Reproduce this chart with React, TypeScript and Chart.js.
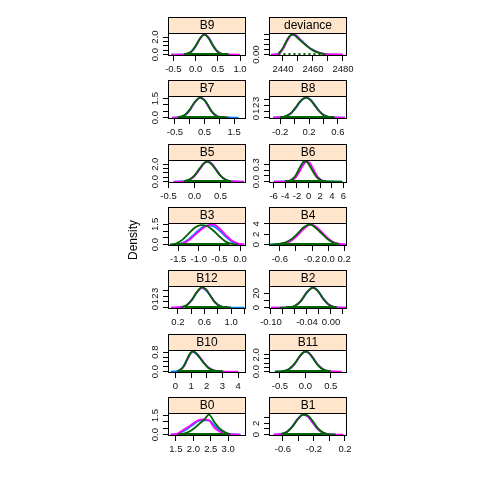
import React, { useEffect, useRef } from 'react';
import { Chart, registerables } from 'chart.js';

Chart.register(...registerables);

// panels in reading order (top-left to bottom-right)
const panelNames = ['B9', 'deviance', 'B7', 'B8', 'B5', 'B6', 'B3', 'B4', 'B12', 'B2', 'B10', 'B11', 'B0', 'B1'];

const xLimits = [
    [-0.62, 1.135], [2430.7, 2482.7],
    [-0.733, 1.9], [-0.355, 0.727],
    [-0.51, 0.99], [-6.8, 6.6],
    [-1.746, 0.144], [-0.735, 0.235],
    [0.052, 1.222], [-0.1033, 0.0267],
    [-0.47, 4.5], [-0.715, 0.82],
    [1.273, 3.51], [-0.78, 0.226],
];

const xTicks = [
    [-0.5, 0, 0.5, 1], [2440, 2450, 2460, 2470, 2480],
    [-0.5, 0, 0.5, 1, 1.5], [-0.2, 0, 0.2, 0.4, 0.6],
    [-0.5, 0, 0.5], [-6, -4, -2, 0, 2, 4, 6],
    [-1.5, -1, -0.5, 0], [-0.6, -0.4, -0.2, 0, 0.2],
    [0.2, 0.4, 0.6, 0.8, 1.0, 1.2], [-0.1, -0.08, -0.06, -0.04, -0.02, 0, 0.02],
    [0, 1, 2, 3, 4], [-0.5, 0, 0.5],
    [1.5, 2, 2.5, 3], [-0.6, -0.4, -0.2, 0, 0.2],
];

const xTickLabels = [
    ['-0.5', '0.0', '0.5', '1.0'], ['2440', '', '2460', '', '2480'],
    ['-0.5', '', '0.5', '', '1.5'], ['-0.2', '', '0.2', '', '0.6'],
    ['-0.5', '0.0', '0.5'], ['-6', '-4', '-2', '0', '2', '4', '6'],
    ['-1.5', '-1.0', '-0.5', '0.0'], ['-0.6', '', '-0.2', '0.0', '0.2'],
    ['0.2', '', '0.6', '', '1.0', ''], ['-0.10', '', '', '-0.04', '', '0.00', ''],
    ['0', '1', '2', '3', '4'], ['-0.5', '0.0', '0.5'],
    ['1.5', '2.0', '2.5', '3.0'], ['-0.6', '', '-0.2', '', '0.2'],
];

const yPeaks = [2.3, 0.081, 1.6, 3.3, 2.32, 0.36, 1.5, 3.9, 3.52, 28.2, 0.83, 2.4, 1.6, 3.6];

const yTicks = [
    [0, 0.5, 1, 1.5, 2], [0, 0.02, 0.04, 0.06, 0.08],
    [0, 0.5, 1, 1.5], [0, 1, 2, 3],
    [0, 0.5, 1, 1.5, 2], [0, 0.1, 0.2, 0.3],
    [0, 0.5, 1, 1.5], [0, 2, 4],
    [0, 1, 2, 3], [0, 10, 20],
    [0, 0.2, 0.4, 0.6, 0.8], [0, 0.5, 1, 1.5, 2],
    [0, 0.5, 1, 1.5], [0, 1, 2, 3],
];

const yTickLabels = [
    ['0.0', '', '', '', '2.0'], ['0.00', '', '', '', ''],
    ['0.0', '', '', '1.5'], ['0', '1', '2', '3'],
    ['0.0', '', '', '', '2.0'], ['0.0', '', '', '0.3'],
    ['0.0', '', '', '1.5'], ['0', '2', '4'],
    ['0', '1', '2', '3'], ['0', '', '20'],
    ['0.0', '', '', '', '0.8'], ['0.0', '', '', '', '2.0'],
    ['0.0', '', '', '1.5'], ['0', '', '2', ''],
];

const densityX = [
    [-0.55, -0.25, -0.1, 0.0, 0.1, 0.2, 0.3, 0.4, 0.5, 0.6, 0.75, 1.0],
    [2432, 2437, 2440, 2443, 2446, 2448, 2451, 2454, 2457, 2460, 2464, 2468, 2480],
    [-0.6, -0.35, -0.15, 0.0, 0.15, 0.35, 0.5, 0.6, 0.75, 0.9, 1.1, 1.3, 1.65],
    [-0.3, -0.15, -0.05, 0.02, 0.08, 0.16, 0.22, 0.28, 0.34, 0.4, 0.47, 0.55, 0.7],
    [-0.4, -0.2, -0.1, 0.0, 0.1, 0.18, 0.25, 0.32, 0.4, 0.5, 0.6, 0.7, 0.95],
    [-6, -4, -3, -2.2, -1.5, -0.8, -0.3, 0.2, 0.8, 1.5, 2.2, 3, 5.8],
    [-1.7, -1.55, -1.4, -1.25, -1.1, -0.95, -0.8, -0.65, -0.5, -0.35, -0.2, -0.05, 0.1],
    [-0.72, -0.62, -0.52, -0.44, -0.37, -0.3, -0.22, -0.15, -0.08, 0.0, 0.07, 0.14, 0.22],
    [0.1, 0.25, 0.33, 0.41, 0.48, 0.56, 0.62, 0.68, 0.75, 0.83, 0.92, 1.0, 1.2],
    [-0.1, -0.085, -0.07, -0.06, -0.05, -0.04, -0.03, -0.022, -0.013, -0.005, 0.003, 0.01, 0.025],
    [-0.3, 0.2, 0.5, 0.75, 0.95, 1.1, 1.3, 1.55, 1.8, 2.1, 2.5, 3.0, 4.0],
    [-0.6, -0.45, -0.33, -0.22, -0.12, -0.05, 0.01, 0.07, 0.15, 0.25, 0.36, 0.48, 0.72],
    [1.35, 1.55, 1.7, 1.85, 2.0, 2.15, 2.3, 2.45, 2.6, 2.75, 2.9, 3.05, 3.35],
    [-0.72, -0.62, -0.55, -0.48, -0.41, -0.34, -0.28, -0.22, -0.15, -0.08, 0.0, 0.08, 0.18],
];

const densityBlue = [
    [0, 0.02, 0.29, 0.9, 1.8, 2.3, 1.9, 1.0, 0.35, 0.07, 0.01, null],
    [0, 0.003, 0.024, 0.058, 0.079, 0.079, 0.064, 0.047, 0.031, 0.019, 0.008, 0.002, 0],
    [0, 0.03, 0.2, 0.57, 1.12, 1.57, 1.4, 1.02, 0.47, 0.15, 0.03, 0.01, 0],
    [0, 0.1, 0.68, 1.6, 2.6, 3.28, 2.98, 2.1, 1.12, 0.47, 0.13, 0.02, 0],
    [0, 0.04, 0.2, 0.65, 1.44, 2.08, 2.32, 2.12, 1.5, 0.7, 0.22, 0.05, 0],
    [0, 0.002, 0.02, 0.09, 0.212, 0.332, 0.358, 0.315, 0.205, 0.085, 0.024, 0.003, 0],
    [0, 0.02, 0.12, 0.38, 0.8, 1.2, 1.43, 1.38, 1.05, 0.6, 0.22, 0.05, 0],
    [0, 0.1, 0.4, 1.1, 2.1, 3.2, 3.9, 3.3, 2.3, 1.1, 0.4, 0.1, 0],
    [0, 0.06, 0.37, 1.3, 2.55, 3.45, 3.0, 2.15, 1.05, 0.3, 0.05, 0.01, 0],
    [0, 0.01, 0.32, 2.3, 9.2, 21.0, 28.2, 23.8, 12.9, 5.2, 1.5, 0.35, 0],
    [0, 0.03, 0.2, 0.52, 0.76, 0.8, 0.74, 0.57, 0.37, 0.17, 0.04, 0.01, null],
    [0, 0.04, 0.24, 0.83, 1.7, 2.22, 2.36, 2.2, 1.6, 0.78, 0.23, 0.03, null],
    [0, 0.05, 0.25, 0.5, 0.8, 1.08, 1.12, 1.12, 0.75, 0.35, 0.12, 0.03, 0],
    [0, 0.12, 0.52, 1.48, 2.8, 3.55, 3.2, 2.15, 0.92, 0.27, 0.05, 0.01, null],
];

const densityMagenta = [
    [0, 0.03, 0.3, 0.92, 1.78, 2.32, 1.88, 0.96, 0.32, 0.07, 0.01, 0],
    [0, 0.002, 0.022, 0.057, 0.08, 0.08, 0.063, 0.046, 0.03, 0.018, 0.008, 0.003, 0],
    [0, 0.02, 0.21, 0.58, 1.14, 1.6, 1.38, 1.0, 0.45, 0.14, 0.02, 0.01, null],
    [0, 0.12, 0.72, 1.7, 2.66, 3.3, 2.88, 1.96, 1.05, 0.44, 0.12, 0.03, 0],
    [0, 0.03, 0.19, 0.64, 1.42, 2.06, 2.3, 2.14, 1.52, 0.7, 0.22, 0.05, 0],
    [0, 0.001, 0.015, 0.075, 0.19, 0.315, 0.36, 0.335, 0.225, 0.095, 0.027, 0.004, null],
    [0, 0.01, 0.08, 0.3, 0.7, 1.1, 1.4, 1.5, 1.2, 0.72, 0.3, 0.07, 0.01],
    [null, 0.08, 0.33, 0.95, 1.95, 3.05, 3.9, 3.45, 2.45, 1.2, 0.45, 0.12, 0],
    [0, 0.07, 0.4, 1.35, 2.6, 3.42, 3.15, 2.25, 1.0, 0.26, 0.04, 0, null],
    [0, 0.02, 0.38, 2.5, 9.6, 21.5, 27.6, 23.2, 12.5, 5.0, 1.4, 0.3, 0],
    [null, 0.02, 0.17, 0.47, 0.72, 0.82, 0.78, 0.6, 0.38, 0.17, 0.04, 0.01, 0],
    [null, 0.03, 0.23, 0.82, 1.7, 2.2, 2.4, 2.26, 1.68, 0.82, 0.25, 0.04, 0],
    [0, 0.08, 0.35, 0.6, 0.9, 1.15, 1.2, 1.12, 0.55, 0.25, 0.1, 0.03, 0],
    [0, 0.1, 0.47, 1.4, 2.74, 3.5, 3.22, 2.2, 0.98, 0.3, 0.06, 0.01, 0],
];

const densityGreen = [
    [null, 0.04, 0.33, 0.97, 1.86, 2.28, 1.8, 0.92, 0.3, 0.06, 0.0, null],
    [null, 0.004, 0.027, 0.062, 0.081, 0.077, 0.06, 0.044, 0.029, 0.017, 0.007, 0.001, null],
    [null, 0.04, 0.24, 0.63, 1.18, 1.58, 1.36, 1.05, 0.45, 0.13, 0.02, 0, null],
    [null, 0.11, 0.74, 1.72, 2.7, 3.26, 2.85, 2.0, 1.08, 0.43, 0.11, 0.02, null],
    [null, 0.05, 0.24, 0.72, 1.52, 2.12, 2.26, 2.04, 1.44, 0.66, 0.2, 0.04, null],
    [null, 0.003, 0.03, 0.115, 0.25, 0.355, 0.35, 0.28, 0.17, 0.065, 0.017, 0.002, 0],
    [0, 0.08, 0.35, 0.8, 1.25, 1.45, 1.38, 1.05, 0.6, 0.22, 0.05, 0.01, null],
    [0, 0.13, 0.5, 1.25, 2.3, 3.4, 3.88, 3.15, 2.15, 1.0, 0.35, 0.07, null],
    [null, 0.08, 0.41, 1.36, 2.62, 3.52, 3.22, 2.2, 1.0, 0.26, 0.03, 0, null],
    [null, 0.01, 0.35, 2.45, 9.5, 21.6, 27.8, 23.3, 12.4, 4.9, 1.35, 0.3, null],
    [null, 0.03, 0.19, 0.5, 0.75, 0.83, 0.77, 0.58, 0.36, 0.15, 0.03, 0, null],
    [0, 0.05, 0.27, 0.88, 1.76, 2.25, 2.38, 2.2, 1.6, 0.75, 0.2, 0.02, null],
    [null, 0, 0.05, 0.2, 0.45, 0.8, 1.15, 1.58, 1.0, 0.5, 0.2, 0.03, null],
    [null, 0.1, 0.45, 1.38, 2.7, 3.58, 3.4, 2.5, 1.15, 0.35, 0.05, 0, null],
];

// extent of the rug of sampled points along y = 0
const rugRanges = [
    [-0.25, 0.72], [2437, 2468],
    [-0.4, 1.2], [-0.2, 0.55],
    [-0.2, 0.7], [-4, 3],
    [-1.6, -0.25], [-0.62, 0.12],
    [0.3, 0.95], [-0.075, 0.008],
    [0.1, 3.0], [-0.45, 0.5],
    [1.6, 3.05], [-0.62, -0.05],
];

const PLOT_W = 78;
const PLOT_H = 23;
const STRIP_H = 16;
const LEFT_ROOM = 26;
const RIGHT_ROOM = 16;
const BOTTOM_ROOM = 24;
const COL_LEFT = [168, 269];
const FONT = '"Liberation Sans", Arial, sans-serif';

const rowPlotTop = (row: number) => 33 + Math.round(63.33 * row);

const latticePanel = {
    id: 'latticePanel',
    afterDraw(chart: any, _args: any, opts: any) {
        const { ctx, chartArea: a } = chart;
        const yScale = chart.scales.y;
        const w = a.right - a.left;
        const sTop = a.top - STRIP_H;
        ctx.save();
        // strip
        ctx.fillStyle = '#FFE5CC';
        ctx.fillRect(a.left, sTop, w, STRIP_H);
        ctx.strokeStyle = '#000';
        ctx.lineWidth = 1;
        ctx.strokeRect(a.left + 0.5, sTop + 0.5, w - 1, STRIP_H);
        ctx.fillStyle = '#000';
        ctx.font = `12px ${FONT}`;
        ctx.textAlign = 'center';
        ctx.textBaseline = 'middle';
        ctx.fillText(opts.title, a.left + w / 2, sTop + STRIP_H / 2 + 1);
        // panel box
        ctx.strokeRect(a.left + 0.5, a.top + 0.5, w - 1, a.bottom - a.top - 1);
        // y tick labels, parallel to the axis
        ctx.font = `9.5px ${FONT}`;
        ctx.fillStyle = '#111';
        opts.ticks.forEach((v: number, k: number) => {
            const label = opts.labels[k];
            if (!label) return;
            const py = yScale.getPixelForValue(v);
            ctx.save();
            ctx.translate(a.left - 13, py);
            ctx.rotate(-Math.PI / 2);
            ctx.fillText(label, 0, 0);
            ctx.restore();
        });
        ctx.restore();
    },
};

const curve = (i: number, ys: (number | null)[], color: string) => ({
    data: densityX[i].map((x, k) => ({ x, y: ys[k] })),
    borderColor: color,
    borderWidth: 1.8,
    pointRadius: 0,
    fill: false,
    cubicInterpolationMode: 'monotone' as const,
    spanGaps: false,
});

const Panel: React.FC<{ index: number }> = ({ index }) => {
    const canvasRef = useRef<HTMLCanvasElement>(null);
    const chartRef = useRef<Chart | null>(null);

    useEffect(() => {
        if (!canvasRef.current) return;
        if (chartRef.current) chartRef.current.destroy();
        const peak = yPeaks[index];
        const tickGrid = { display: true, drawOnChartArea: false, drawTicks: true, tickLength: 5, color: '#000', lineWidth: 1 };
        chartRef.current = new Chart(canvasRef.current, {
            type: 'line',
            data: {
                datasets: [
                    {
                        data: rugRanges[index].map((x) => ({ x, y: 0 })),
                        borderColor: '#006400',
                        borderWidth: 3,
                        borderDash: panelNames[index] === 'deviance' ? [2, 3] : [],
                        pointRadius: 0,
                        fill: false,
                    },
                    curve(index, densityGreen[index], '#006400'),
                    curve(index, densityMagenta[index], '#FF00FF'),
                    curve(index, densityBlue[index], '#0080FF'),
                ],
            },
            options: {
                animation: false,
                responsive: false,
                events: [],
                layout: { padding: { top: STRIP_H + 1, right: RIGHT_ROOM, left: 0, bottom: 0 } },
                plugins: {
                    legend: { display: false },
                    tooltip: { enabled: false },
                    // @ts-ignore
                    latticePanel: { title: panelNames[index], ticks: yTicks[index], labels: yTickLabels[index] },
                },
                scales: {
                    x: {
                        type: 'linear',
                        min: xLimits[index][0],
                        max: xLimits[index][1],
                        afterBuildTicks: (ax: any) => {
                            ax.ticks = xTicks[index].map((v) => ({ value: v }));
                        },
                        afterFit: (ax: any) => {
                            ax.height = BOTTOM_ROOM;
                        },
                        grid: tickGrid,
                        border: { display: false },
                        ticks: {
                            autoSkip: false,
                            maxRotation: 0,
                            minRotation: 0,
                            padding: 3,
                            color: '#111',
                            font: { family: FONT, size: 9.5 },
                            callback: (_v: any, k: number) => xTickLabels[index][k],
                        },
                    },
                    y: {
                        type: 'linear',
                        min: -0.07 * peak,
                        max: 1.07 * peak,
                        afterBuildTicks: (ax: any) => {
                            ax.ticks = yTicks[index].map((v) => ({ value: v }));
                        },
                        afterFit: (ax: any) => {
                            ax.width = LEFT_ROOM;
                        },
                        grid: tickGrid,
                        border: { display: false },
                        ticks: { display: false },
                    },
                },
            },
            plugins: [latticePanel],
        });
        return () => {
            if (chartRef.current) {
                chartRef.current.destroy();
                chartRef.current = null;
            }
        };
    }, [index]);

    const row = Math.floor(index / 2);
    const col = index % 2;
    const width = LEFT_ROOM + PLOT_W + RIGHT_ROOM;
    const height = 1 + STRIP_H + PLOT_H + BOTTOM_ROOM;
    return (
        <canvas
            ref={canvasRef}
            width={width}
            height={height}
            style={{
                position: 'absolute',
                left: COL_LEFT[col] - LEFT_ROOM,
                top: rowPlotTop(row) - STRIP_H - 1,
                width,
                height,
            }}
        />
    );
};

const App: React.FC = () => (
    <div style={{ position: 'fixed', left: 0, top: 0, width: 480, height: 480, background: '#fff' }}>
        {panelNames.map((_n, i) => (
            <Panel key={i} index={i} />
        ))}
        <div
            style={{
                position: 'absolute',
                left: 133,
                top: 240,
                transform: 'translate(-50%, -50%) rotate(-90deg)',
                font: `12px ${FONT}`,
                color: '#000',
                whiteSpace: 'nowrap',
            }}
        >
            Density
        </div>
    </div>
);

export default App;
